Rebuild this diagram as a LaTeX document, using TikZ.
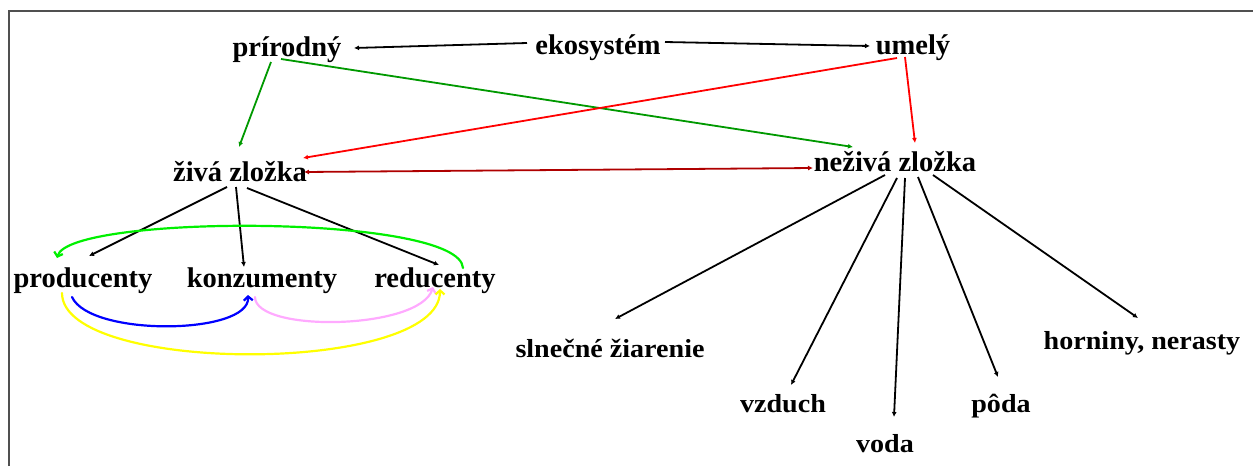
\documentclass[tikz,border=0pt]{standalone}
\usepackage{fontspec}
\setmainfont{Liberation Serif}
\newfontfamily\widefont[FakeStretch=1.08]{Liberation Serif}
\usetikzlibrary{arrows.meta,calc}

\definecolor{framegray}{RGB}{80,80,80}
\definecolor{natgreen}{RGB}{0,153,0}
\definecolor{artred}{RGB}{255,0,0}
\definecolor{linkred}{RGB}{175,0,0}
\definecolor{cyclegreen}{RGB}{0,240,0}
\definecolor{cycleblue}{RGB}{0,0,255}
\definecolor{cyclepink}{RGB}{255,170,255}
\definecolor{cycleyellow}{RGB}{255,255,0}

\begin{document}
\begin{tikzpicture}[x=1pt,y=-1pt,
  lbl/.style={anchor=base, inner sep=0pt, font=\fontsize{28.5}{30}\selectfont\bfseries},
  lowlbl/.style={anchor=base, inner sep=0pt, font=\widefont\fontsize{26}{28}\selectfont\bfseries},
  link/.style={line width=1.8pt, -{Latex[length=5pt,width=5pt]}},
  cycle/.style={line width=2.2pt, line cap=round, -{Straight Barb[length=4pt,width=9pt]}},
]
\useasboundingbox (0,0) rectangle (1253,466);

% frame
\draw[framegray, line width=2pt] (8.5,466) -- (8.5,11) -- (1253,11);

% labels
\node[lbl] (eko)  at (598,54)  {ekosystém};
\node[lbl] (prir) at (287,56)  {prírodný};
\node[lbl] (umel) at (913,54)  {umelý};
\node[lbl] (ziva) at (240,181) {živá zložka};
\node[lbl] (nez)  at (895,171) {neživá zložka};
\node[lbl] (prod) at (83,287)  {producenty};
\node[lbl] (konz) at (262,287) {konzumenty};
\node[lbl] (redu) at (435,287) {reducenty};
\node[lowlbl] (slnk) at (610,357)  {slnečné žiarenie};
\node[lowlbl] (vzd)  at (783,412)  {vzduch};
\node[lowlbl] (voda) at (885,452)  {voda};
\node[lowlbl] (poda) at (1001,412) {pôda};
\node[lowlbl] (horn) at (1142,349) {horniny, nerasty};

% ecosystem split
\draw[link] ($(eko.base)+(-71,-11)$) -- ($(prir.base)+(67,-8)$);
\draw[link] ($(eko.base)+(67,-12)$) -- ($(umel.base)+(-43,-8)$);

% natural / artificial
\draw[link, natgreen] ($(prir.base)+(-16,6)$) -- ($(ziva.base)+(-1,-34)$);
\draw[link, natgreen] ($(prir.base)+(-6,3)$) -- ($(nez.base)+(-42,-24)$);
\draw[link, artred] ($(umel.base)+(-16,4)$) -- ($(ziva.base)+(63,-23)$);
\draw[link, artred] ($(umel.base)+(-8,3)$) -- ($(nez.base)+(20,-28)$);
\draw[link, linkred, {Latex[length=5pt,width=5pt]}-{Latex[length=5pt,width=5pt]}]
  ($(ziva.base)+(64,-9)$) -- ($(nez.base)+(-82,-3)$);

% living part
\draw[link] ($(ziva.base)+(-13,6)$) -- ($(prod.base)+(6,-31)$);
\draw[link] ($(ziva.base)+(-4,6)$) -- ($(konz.base)+(-18,-20)$);
\draw[link] ($(ziva.base)+(7,7)$) -- ($(redu.base)+(4,-22)$);

% non-living part
\draw[link] ($(nez.base)+(-10,4)$) -- ($(slnk.base)+(5,-38)$);
\draw[link] ($(nez.base)+(2,7)$) -- ($(vzd.base)+(8,-27)$);
\draw[link] ($(nez.base)+(10,7)$) -- ($(voda.base)+(9,-35)$);
\draw[link] ($(nez.base)+(23,6)$) -- ($(poda.base)+(-3,-35)$);
\draw[link] ($(nez.base)+(38,4)$) -- ($(horn.base)+(-4,-31)$);

% food cycle
\draw[cycle, cyclegreen] ($(redu.base)+(28,-19)$)
  .. controls ($(redu.base)+(25,-73)$) and ($(prod.base)+(-13,-73)$) .. ($(prod.base)+(-26,-29)$);
\draw[cycle, cycleblue] ($(prod.base)+(-11,10)$)
  .. controls ($(prod.base)+(7,50)$) and ($(konz.base)+(-12,48)$) .. ($(konz.base)+(-14,8)$);
\draw[cycle, cyclepink] ($(konz.base)+(-7,10)$)
  .. controls ($(konz.base)+(-7,46)$) and ($(redu.base)+(-15,43)$) .. ($(redu.base)+(-2,0)$);
\draw[cycle, cycleyellow] ($(prod.base)+(-21,6)$)
  .. controls ($(prod.base)+(-21,88)$) and ($(redu.base)+(5,88)$) .. ($(redu.base)+(5,2)$);
\end{tikzpicture}
\end{document}
